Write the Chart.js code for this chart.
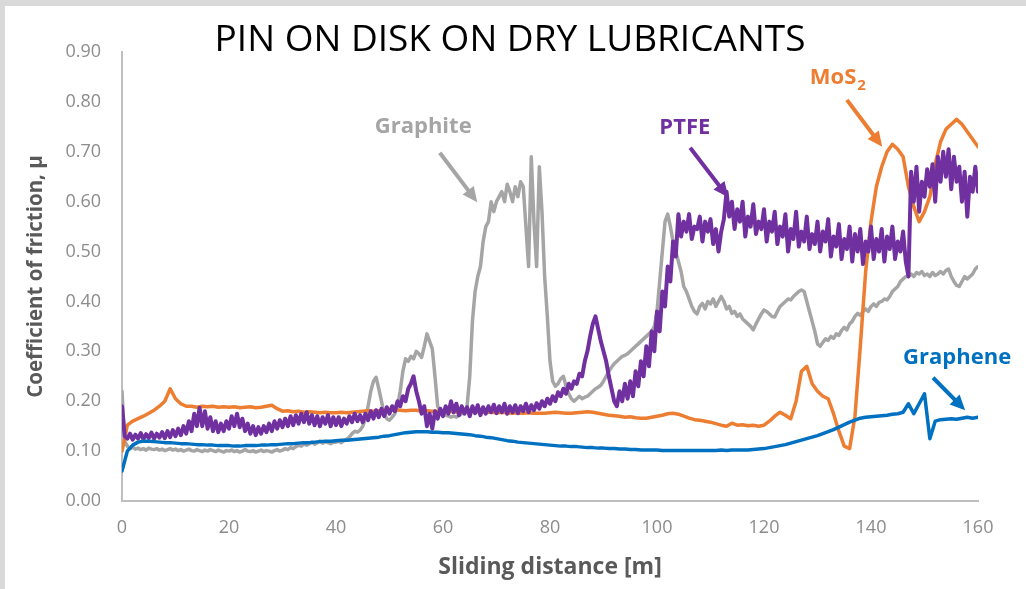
<!DOCTYPE html>
<html>
<head>
<meta charset="utf-8">
<script src="https://cdn.jsdelivr.net/npm/chart.js@4.4.1/dist/chart.umd.min.js"></script>
<style>
  html, body { margin: 0; padding: 0; background: #fff; }
  #wrap { width: 1026px; height: 589px; }
</style>
</head>
<body>
<div id="wrap"><canvas id="myChart" width="1026" height="589"></canvas></div>
<script>
// sliding distance grids [m]
const distance = Array.from({length: 161}, (_, i) => i);          // 1 m step
const fineDistance = Array.from({length: 321}, (_, i) => i / 2);  // 0.5 m step

const yTicks = [0, 0.1, 0.2, 0.3, 0.4, 0.5, 0.6, 0.7, 0.8, 0.9];
const xTicks = [0, 20, 40, 60, 80, 100, 120, 140, 160];

// coefficient of friction, fine grid
const graphite = [
  0.22, 0.12, 0.11, 0.105, 0.108, 0.104, 0.106, 0.103, 0.105, 0.102, 0.106, 0.104, 0.103, 0.105, 0.102, 0.104, 0.101, 0.103, 0.105, 0.102,
  0.104, 0.101, 0.103, 0.100, 0.102, 0.104, 0.101, 0.100, 0.103, 0.101, 0.099, 0.102, 0.100, 0.103, 0.101, 0.099, 0.102, 0.100, 0.098, 0.101,
  0.100, 0.102, 0.099, 0.101, 0.098, 0.100, 0.103, 0.100, 0.099, 0.101, 0.098, 0.100, 0.102, 0.099, 0.101, 0.100, 0.098, 0.101, 0.103, 0.100,
  0.102, 0.105, 0.103, 0.107, 0.105, 0.109, 0.112, 0.110, 0.114, 0.112, 0.115, 0.118, 0.114, 0.117, 0.120, 0.116, 0.119, 0.117, 0.115, 0.118,
  0.118, 0.120, 0.117, 0.121, 0.124, 0.128, 0.135, 0.140, 0.138, 0.142, 0.150, 0.165, 0.190, 0.220, 0.240, 0.248, 0.225, 0.200, 0.175, 0.165,
  0.162, 0.168, 0.175, 0.190, 0.220, 0.260, 0.285, 0.280, 0.290, 0.285, 0.300, 0.295, 0.288, 0.310, 0.335, 0.320, 0.305, 0.250, 0.190, 0.180,
  0.175, 0.172, 0.170, 0.168, 0.170, 0.168, 0.172, 0.175, 0.180, 0.190, 0.250, 0.360, 0.420, 0.450, 0.470, 0.520, 0.550, 0.560, 0.600, 0.580,
  0.600, 0.610, 0.620, 0.600, 0.635, 0.620, 0.600, 0.630, 0.610, 0.640, 0.630, 0.550, 0.470, 0.690, 0.560, 0.470, 0.670, 0.580, 0.450, 0.370,
  0.280, 0.240, 0.230, 0.235, 0.245, 0.250, 0.230, 0.215, 0.205, 0.200, 0.205, 0.210, 0.205, 0.208, 0.210, 0.215, 0.220, 0.225, 0.228, 0.232,
  0.240, 0.250, 0.260, 0.268, 0.275, 0.280, 0.285, 0.290, 0.292, 0.295, 0.300, 0.305, 0.310, 0.315, 0.320, 0.325, 0.330, 0.335, 0.340, 0.350,
  0.380, 0.440, 0.500, 0.560, 0.575, 0.550, 0.520, 0.500, 0.480, 0.460, 0.430, 0.420, 0.405, 0.390, 0.380, 0.375, 0.390, 0.396, 0.385, 0.400,
  0.395, 0.405, 0.390, 0.400, 0.410, 0.400, 0.385, 0.390, 0.376, 0.380, 0.370, 0.375, 0.365, 0.360, 0.355, 0.350, 0.343, 0.355, 0.365, 0.375,
  0.383, 0.380, 0.375, 0.370, 0.369, 0.380, 0.390, 0.395, 0.400, 0.405, 0.403, 0.410, 0.415, 0.420, 0.423, 0.420, 0.400, 0.380, 0.360, 0.340,
  0.315, 0.310, 0.318, 0.325, 0.322, 0.330, 0.326, 0.335, 0.332, 0.342, 0.348, 0.343, 0.355, 0.360, 0.370, 0.376, 0.372, 0.380, 0.385, 0.380,
  0.390, 0.395, 0.390, 0.398, 0.400, 0.405, 0.403, 0.410, 0.420, 0.425, 0.430, 0.440, 0.445, 0.450, 0.450, 0.455, 0.450, 0.458, 0.455, 0.460,
  0.452, 0.455, 0.450, 0.458, 0.452, 0.455, 0.460, 0.455, 0.462, 0.465, 0.450, 0.440, 0.432, 0.430, 0.440, 0.450, 0.445, 0.450, 0.455, 0.465,
  0.470
];

const ptfe = [
  0.190, 0.130, 0.125, 0.135, 0.123, 0.133, 0.125, 0.136, 0.124, 0.134, 0.126, 0.137, 0.125, 0.135, 0.127, 0.138, 0.126, 0.140, 0.128, 0.142,
  0.130, 0.145, 0.132, 0.150, 0.135, 0.160, 0.140, 0.175, 0.150, 0.187, 0.150, 0.180, 0.145, 0.168, 0.140, 0.160, 0.138, 0.155, 0.140, 0.160,
  0.145, 0.170, 0.150, 0.175, 0.148, 0.165, 0.140, 0.155, 0.135, 0.150, 0.132, 0.148, 0.135, 0.150, 0.138, 0.155, 0.140, 0.160, 0.145, 0.162,
  0.148, 0.165, 0.150, 0.170, 0.152, 0.172, 0.155, 0.175, 0.158, 0.178, 0.155, 0.172, 0.152, 0.170, 0.150, 0.168, 0.155, 0.172, 0.150, 0.168,
  0.152, 0.168, 0.150, 0.165, 0.155, 0.170, 0.158, 0.175, 0.160, 0.172, 0.158, 0.175, 0.162, 0.180, 0.165, 0.182, 0.168, 0.185, 0.170, 0.188,
  0.175, 0.190, 0.180, 0.200, 0.190, 0.210, 0.200, 0.225, 0.235, 0.250, 0.220, 0.200, 0.175, 0.190, 0.150, 0.175, 0.145, 0.180, 0.165, 0.185,
  0.170, 0.190, 0.175, 0.200, 0.178, 0.195, 0.172, 0.190, 0.175, 0.188, 0.170, 0.190, 0.176, 0.192, 0.172, 0.188, 0.175, 0.190, 0.178, 0.193,
  0.176, 0.190, 0.178, 0.195, 0.175, 0.190, 0.178, 0.192, 0.176, 0.190, 0.180, 0.195, 0.178, 0.192, 0.182, 0.196, 0.185, 0.200, 0.190, 0.205,
  0.195, 0.210, 0.200, 0.218, 0.210, 0.225, 0.215, 0.235, 0.225, 0.240, 0.235, 0.255, 0.250, 0.280, 0.300, 0.330, 0.355, 0.370, 0.345, 0.320,
  0.300, 0.280, 0.250, 0.225, 0.200, 0.190, 0.220, 0.200, 0.235, 0.205, 0.240, 0.210, 0.260, 0.230, 0.280, 0.250, 0.310, 0.270, 0.340, 0.300,
  0.380, 0.340, 0.420, 0.390, 0.470, 0.440, 0.520, 0.490, 0.575, 0.530, 0.560, 0.540, 0.575, 0.525, 0.550, 0.545, 0.570, 0.520, 0.560, 0.540,
  0.565, 0.515, 0.545, 0.500, 0.540, 0.565, 0.620, 0.570, 0.600, 0.545, 0.585, 0.560, 0.600, 0.530, 0.570, 0.550, 0.595, 0.535, 0.560, 0.545,
  0.585, 0.520, 0.560, 0.540, 0.580, 0.515, 0.550, 0.530, 0.575, 0.500, 0.545, 0.525, 0.580, 0.510, 0.540, 0.520, 0.570, 0.505, 0.535, 0.515,
  0.560, 0.500, 0.540, 0.520, 0.565, 0.490, 0.530, 0.510, 0.555, 0.485, 0.525, 0.505, 0.550, 0.480, 0.535, 0.500, 0.545, 0.475, 0.520, 0.500,
  0.550, 0.485, 0.525, 0.500, 0.545, 0.480, 0.530, 0.505, 0.550, 0.485, 0.520, 0.500, 0.540, 0.480, 0.450, 0.660, 0.600, 0.670, 0.580, 0.640,
  0.610, 0.665, 0.630, 0.675, 0.600, 0.690, 0.640, 0.700, 0.650, 0.705, 0.625, 0.690, 0.640, 0.670, 0.600, 0.660, 0.570, 0.650, 0.620, 0.670,
  0.620
];

// coefficient of friction, 1 m grid
const graphene = [
  0.060, 0.100, 0.112, 0.118, 0.120, 0.120, 0.119, 0.118, 0.117, 0.117,
  0.116, 0.115, 0.115, 0.114, 0.113, 0.113, 0.112, 0.112, 0.111, 0.111,
  0.111, 0.110, 0.110, 0.111, 0.111, 0.111, 0.112, 0.112, 0.113, 0.113,
  0.114, 0.115, 0.115, 0.116, 0.117, 0.117, 0.118, 0.119, 0.120, 0.120,
  0.121, 0.122, 0.122, 0.123, 0.124, 0.125, 0.126, 0.127, 0.128, 0.130,
  0.131, 0.133, 0.135, 0.137, 0.138, 0.139, 0.139, 0.139, 0.138, 0.138,
  0.137, 0.137, 0.136, 0.135, 0.134, 0.133, 0.131, 0.130, 0.128, 0.127,
  0.125, 0.123, 0.121, 0.120, 0.118, 0.117, 0.116, 0.115, 0.114, 0.113,
  0.112, 0.111, 0.110, 0.110, 0.109, 0.109, 0.108, 0.107, 0.107, 0.106,
  0.106, 0.105, 0.105, 0.104, 0.104, 0.103, 0.103, 0.102, 0.102, 0.102,
  0.102, 0.101, 0.101, 0.101, 0.101, 0.101, 0.101, 0.101, 0.101, 0.101,
  0.101, 0.101, 0.102, 0.101, 0.102, 0.102, 0.102, 0.102, 0.103, 0.104,
  0.105, 0.107, 0.109, 0.111, 0.113, 0.116, 0.119, 0.122, 0.125, 0.128,
  0.131, 0.135, 0.139, 0.143, 0.148, 0.153, 0.158, 0.162, 0.166, 0.168,
  0.169, 0.170, 0.171, 0.172, 0.174, 0.175, 0.178, 0.195, 0.175, 0.195,
  0.215, 0.125, 0.160, 0.163, 0.164, 0.165, 0.164, 0.166, 0.168, 0.166,
  0.168
];

const mos2 = [
  0.100, 0.152, 0.160, 0.165, 0.170, 0.176, 0.182, 0.190, 0.200, 0.225,
  0.205, 0.195, 0.190, 0.190, 0.188, 0.190, 0.189, 0.190, 0.188, 0.189,
  0.188, 0.189, 0.187, 0.188, 0.189, 0.187, 0.188, 0.190, 0.192, 0.185,
  0.180, 0.181, 0.179, 0.180, 0.178, 0.179, 0.178, 0.177, 0.178, 0.177,
  0.177, 0.178, 0.177, 0.178, 0.179, 0.180, 0.181, 0.180, 0.181, 0.182,
  0.182, 0.183, 0.182, 0.181, 0.182, 0.182, 0.180, 0.181, 0.180, 0.180,
  0.179, 0.180, 0.179, 0.178, 0.179, 0.180, 0.179, 0.179, 0.178, 0.178,
  0.177, 0.178, 0.177, 0.176, 0.177, 0.176, 0.177, 0.176, 0.176, 0.176,
  0.177, 0.178, 0.177, 0.176, 0.176, 0.177, 0.178, 0.179, 0.178, 0.176,
  0.174, 0.172, 0.171, 0.170, 0.168, 0.169, 0.167, 0.166, 0.166, 0.168,
  0.170, 0.172, 0.175, 0.176, 0.174, 0.170, 0.166, 0.163, 0.162, 0.160,
  0.158, 0.155, 0.152, 0.150, 0.156, 0.152, 0.153, 0.151, 0.152, 0.150,
  0.152, 0.160, 0.170, 0.178, 0.172, 0.165, 0.200, 0.260, 0.270, 0.235,
  0.220, 0.210, 0.205, 0.175, 0.140, 0.110, 0.105, 0.170, 0.310, 0.460,
  0.560, 0.630, 0.670, 0.700, 0.715, 0.705, 0.690, 0.630, 0.590, 0.560,
  0.580, 0.610, 0.675, 0.720, 0.745, 0.755, 0.765, 0.755, 0.740, 0.725,
  0.710
];

// callout labels: text anchor and arrow (start -> tip) in data units
const callouts = [
  {text: 'Graphite', sub: '', color: '#a5a5a5', at: [56.3, 0.750], from: [59.4, 0.698], to: [66.4, 0.599]},
  {text: 'PTFE', sub: '', color: '#7030a0', at: [105.2, 0.748], from: [106.2, 0.708], to: [113.3, 0.609]},
  {text: 'MoS', sub: '2', color: '#ed7d31', at: [133.8, 0.848], from: [135.5, 0.804], to: [142.1, 0.710]},
  {text: 'Graphene', sub: '', color: '#0070c0', at: [156.1, 0.287], from: [151.6, 0.247], to: [157.6, 0.182]}
];

const toXY = (xs, ys) => xs.map((x, i) => ({x: x, y: ys[i]}));

const FONT = '"Open Sans", "Noto Sans", sans-serif';

// grey frame + white page + title
const framePlugin = {
  id: 'frame',
  beforeDraw(chart) {
    const c = chart.ctx;
    c.save();
    c.fillStyle = '#ffffff';
    c.fillRect(0, 0, chart.width, chart.height);
    c.fillStyle = '#d9d9d9';
    c.fillRect(0, 0, chart.width, 6);
    c.fillRect(0, 0, 5, chart.height);
    c.restore();
  },
  afterDraw(chart) {
    const c = chart.ctx;
    c.save();
    c.fillStyle = '#000000';
    c.font = '37px ' + FONT;
    c.textAlign = 'center';
    c.textBaseline = 'alphabetic';
    c.fillText('PIN ON DISK ON DRY LUBRICANTS', 510, 51);
    c.restore();
  }
};

const calloutPlugin = {
  id: 'callouts',
  afterDatasetsDraw(chart) {
    const c = chart.ctx, sx = chart.scales.x, sy = chart.scales.y;
    c.save();
    callouts.forEach(o => {
      const x0 = sx.getPixelForValue(o.from[0]), y0 = sy.getPixelForValue(o.from[1]);
      const x1 = sx.getPixelForValue(o.to[0]), y1 = sy.getPixelForValue(o.to[1]);
      const ang = Math.atan2(y1 - y0, x1 - x0);
      const head = 15;
      c.strokeStyle = o.color;
      c.fillStyle = o.color;
      c.lineWidth = 4;
      c.beginPath();
      c.moveTo(x0, y0);
      c.lineTo(x1 - head * 0.8 * Math.cos(ang), y1 - head * 0.8 * Math.sin(ang));
      c.stroke();
      c.beginPath();
      c.moveTo(x1, y1);
      c.lineTo(x1 - head * Math.cos(ang) + 7 * Math.sin(ang), y1 - head * Math.sin(ang) - 7 * Math.cos(ang));
      c.lineTo(x1 - head * Math.cos(ang) - 7 * Math.sin(ang), y1 - head * Math.sin(ang) + 7 * Math.cos(ang));
      c.closePath();
      c.fill();

      // label
      const tx = sx.getPixelForValue(o.at[0]), ty = sy.getPixelForValue(o.at[1]);
      c.font = 'bold 22px ' + FONT;
      c.textBaseline = 'middle';
      const w = c.measureText(o.text).width;
      let sw = 0;
      if (o.sub) {
        c.font = 'bold 15px ' + FONT;
        sw = c.measureText(o.sub).width + 1;
      }
      const left = tx - (w + sw) / 2;
      c.textAlign = 'left';
      c.font = 'bold 22px ' + FONT;
      c.fillText(o.text, left, ty);
      if (o.sub) {
        c.font = 'bold 15px ' + FONT;
        c.fillText(o.sub, left + w + 1, ty + 8);
      }
    });
    c.restore();
  }
};

const data = {
  datasets: [
    {label: 'Graphene', data: toXY(distance, graphene), borderColor: '#0070c0', borderWidth: 3.5},
    {label: 'PTFE', data: toXY(fineDistance, ptfe), borderColor: '#7030a0', borderWidth: 4},
    {label: 'MoS2', data: toXY(distance, mos2), borderColor: '#ed7d31', borderWidth: 3.5},
    {label: 'Graphite', data: toXY(fineDistance, graphite), borderColor: '#a5a5a5', borderWidth: 3.5}
  ]
};

const config = {
  type: 'line',
  data,
  options: {
    responsive: false,
    animation: false,
    elements: {
      point: {radius: 0},
      line: {tension: 0, borderJoinStyle: 'round', borderCapStyle: 'round'}
    },
    layout: {padding: {top: 52, right: 48, bottom: 0, left: 0}},
    plugins: {
      legend: {display: false},
      tooltip: {enabled: false},
      title: {display: false}
    },
    scales: {
      x: {
        type: 'linear',
        min: 0,
        max: 160,
        afterFit: s => { s.height = 88; },
        afterBuildTicks: s => { s.ticks = xTicks.map(v => ({value: v})); },
        grid: {display: false, drawTicks: false},
        border: {display: true, color: '#bfbfbf', width: 2},
        ticks: {
          color: '#8c8c8c',
          font: {family: FONT, size: 18},
          padding: 16,
          maxRotation: 0
        },
        title: {
          display: true,
          text: 'Sliding distance [m]',
          color: '#595959',
          font: {family: FONT, size: 23, weight: 'bold'},
          padding: {top: 0, bottom: 8}
        }
      },
      y: {
        min: 0,
        max: 0.9,
        afterFit: s => { s.width = 122; },
        afterBuildTicks: s => { s.ticks = yTicks.map(v => ({value: v})); },
        grid: {display: false, drawTicks: false},
        border: {display: true, color: '#bfbfbf', width: 2},
        ticks: {
          color: '#8c8c8c',
          font: {family: FONT, size: 18},
          padding: 21,
          callback: v => Number(v).toFixed(2)
        },
        title: {
          display: true,
          text: 'Coefficient of friction, \u03bc',
          color: '#595959',
          font: {family: FONT, size: 20.5, weight: 'bold'},
          padding: {top: 24, bottom: 0}
        }
      }
    }
  },
  plugins: [framePlugin, calloutPlugin]
};

const myChart = new Chart(document.getElementById('myChart').getContext('2d'), config);
</script>
</body>
</html>
